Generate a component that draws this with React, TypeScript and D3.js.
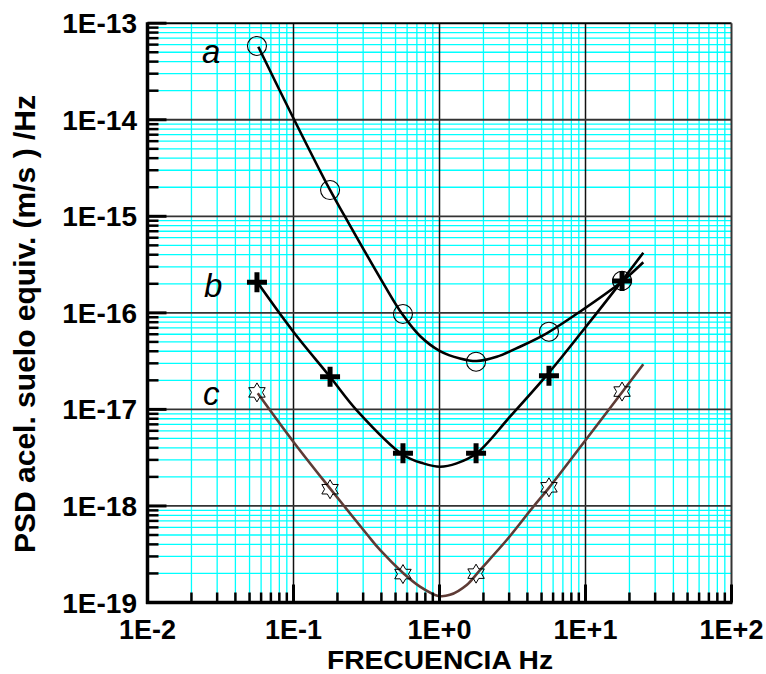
import React from 'react';
import * as d3 from 'd3';

const W = 766;
const H = 674;

const xTickValues = [0.01, 0.1, 1, 10, 100];
const xTickLabels = ['1E-2', '1E-1', '1E+0', '1E+1', '1E+2'];
const yTickValues = [1e-19, 1e-18, 1e-17, 1e-16, 1e-15, 1e-14, 1e-13];
const yTickLabels = ['1E-19', '1E-18', '1E-17', '1E-16', '1E-15', '1E-14', '1E-13'];

const markerFreq = [0.0562, 0.178, 0.562, 1.78, 5.62, 17.8];
const markerA = [5.81e-14, 1.87e-15, 9.73e-17, 3.12e-17, 6.38e-17, 2.15e-16];
const markerB = [2.07e-16, 2.18e-17, 3.51e-18, 3.51e-18, 2.23e-17, 2.14e-16];
const markerC = [1.5e-17, 1.49e-18, 1.97e-19, 1.99e-19, 1.56e-18, 1.53e-17];

const curveAFreq = [0.0574, 0.1013, 0.1778, 0.2253, 0.4122, 0.551, 0.735, 1.008, 1.382, 1.798, 2.465, 3.559, 5.423, 9.17, 17.7, 24.88];
const curveAVal = [5.71e-14, 9.94e-15, 1.873e-15, 9.91e-16, 2.02e-16, 9.89e-17, 5.76e-17, 4.02e-17, 3.37e-17, 3.17e-17, 3.51e-17, 4.46e-17, 6.14e-17, 1.03e-16, 2.1e-16, 3.34e-16];

const curveBFreq = [0.0567, 0.0997, 0.1778, 0.2722, 0.565, 0.774, 1.008, 1.311, 1.798, 3.04, 5.562, 9.66, 17.23, 24.88];
const curveBVal = [2.06e-16, 6.38e-17, 2.18e-17, 9.74e-18, 3.37e-18, 2.76e-18, 2.55e-18, 2.76e-18, 3.51e-18, 8.4e-18, 2.36e-17, 6.64e-17, 2.02e-16, 4.2e-16];

const curveCFreq = [0.0569, 0.0997, 0.1778, 0.3173, 0.3914, 0.565, 0.735, 0.981, 1.18, 1.536, 1.894, 2.886, 4.39, 5.58, 11.31, 24.88];
const curveCVal = [1.47e-17, 4.63e-18, 1.52e-18, 5.12e-19, 3.5e-19, 2.01e-19, 1.46e-19, 1.17e-19, 1.2e-19, 1.52e-19, 2.17e-19, 4.44e-19, 9.82e-19, 1.52e-18, 6.12e-18, 2.93e-17];

const seriesLabels = ['a', 'b', 'c'];
const xTitle = 'FRECUENCIA Hz';
const yTitle = 'PSD acel. suelo equiv. (m/s ) /Hz';

const FONT = "'Liberation Sans', Arial, Helvetica, sans-serif";

const x = d3.scaleLog().domain([0.01, 100]).range([147.5, 731.5]);
const y = d3.scaleLog().domain([1e-19, 1e-13]).range([602.5, 23.2]);

const minorX: number[] = [];
for (let d = -2; d <= 1; d++) for (let k = 2; k <= 9; k++) minorX.push(k * Math.pow(10, d));
const minorY: number[] = [];
for (let d = -19; d <= -14; d++) for (let k = 2; k <= 9; k++) minorY.push(k * Math.pow(10, d));

const line = d3
  .line<[number, number]>()
  .x((d) => x(d[0]))
  .y((d) => y(d[1]))
  .curve(d3.curveCatmullRom.alpha(0.5));

const zip = (a: number[], b: number[]) => a.map((v, i) => [v, b[i]] as [number, number]);

const starPath = (() => {
  const R = 9.5, r = 5.5;
  const pts: [number, number][] = [];
  for (let i = 0; i < 12; i++) {
    const ang = -Math.PI / 2 + (i * Math.PI) / 6;
    const rad = i % 2 === 0 ? R : r;
    pts.push([rad * Math.cos(ang), rad * Math.sin(ang)]);
  }
  return 'M' + pts.map((p) => p[0].toFixed(2) + ',' + p[1].toFixed(2)).join('L') + 'Z';
})();

export default function App() {
  const x0 = x.range()[0], x1 = x.range()[1];
  const y0 = y.range()[0], y1 = y.range()[1];
  return (
    <svg width={W} height={H} style={{ position: 'absolute', left: 0, top: 0, background: '#fff' }}>
      <rect x={0} y={0} width={W} height={H} fill="#fff" />
      {/* minor grid */}
      {minorX.map((v, i) => (
        <line key={'gx' + i} x1={x(v)} x2={x(v)} y1={y1} y2={y0} stroke="#00ffff" strokeWidth={1.3} />
      ))}
      {minorY.map((v, i) => (
        <line key={'gy' + i} x1={x0} x2={x1} y1={y(v)} y2={y(v)} stroke="#00ffff" strokeWidth={1.3} />
      ))}
      {/* major grid */}
      {xTickValues.slice(1, -1).map((v, i) => (
        <line key={'Gx' + i} x1={x(v)} x2={x(v)} y1={y1} y2={y0} stroke="#111" strokeWidth={1.5} />
      ))}
      {yTickValues.slice(1, -1).map((v, i) => (
        <line key={'Gy' + i} x1={x0} x2={x1} y1={y(v)} y2={y(v)} stroke="#333" strokeWidth={1.8} />
      ))}
      {/* frame */}
      <line x1={x0} x2={x1} y1={y1} y2={y1} stroke="#000" strokeWidth={2} />
      <line x1={x1} x2={x1} y1={y1} y2={y0} stroke="#333" strokeWidth={2} />
      {/* curves */}
      <path d={line(zip(curveAFreq, curveAVal)) || ''} fill="none" stroke="#000" strokeWidth={2.6} />
      <path d={line(zip(curveBFreq, curveBVal)) || ''} fill="none" stroke="#000" strokeWidth={2.6} />
      <path d={line(zip(curveCFreq, curveCVal)) || ''} fill="none" stroke="#5e3b35" strokeWidth={2.6} />
      {/* markers */}
      {markerFreq.map((f, i) => (
        <circle key={'ma' + i} cx={x(f)} cy={y(markerA[i])} r={9.5} fill="none" stroke="#000" strokeWidth={1.1} />
      ))}
      {markerFreq.map((f, i) => (
        <path
          key={'mb' + i}
          transform={`translate(${x(f)},${y(markerB[i])})`}
          d="M-10,0H10M0,-10V10"
          stroke="#000"
          strokeWidth={5}
          fill="none"
        />
      ))}
      {markerFreq.map((f, i) => (
        <path
          key={'mc' + i}
          transform={`translate(${x(f)},${y(markerC[i])})`}
          d={starPath}
          stroke="#000"
          strokeWidth={1}
          fill="none"
        />
      ))}
      {/* axes */}
      <line x1={x0} x2={x0} y1={y1 - 1} y2={y0 + 1.5} stroke="#000" strokeWidth={3.5} />
      <line x1={x0 - 1.5} x2={x1 + 1} y1={y0} y2={y0} stroke="#000" strokeWidth={3.5} />
      {yTickValues.map((v, i) => (
        <line key={'ty' + i} x1={x0} x2={x0 + 19} y1={y(v)} y2={y(v)} stroke="#000" strokeWidth={3} />
      ))}
      {minorY.map((v, i) => (
        <line key={'tmy' + i} x1={x0} x2={x0 + 11} y1={y(v)} y2={y(v)} stroke="#000" strokeWidth={2.5} />
      ))}
      {xTickValues.map((v, i) => (
        <line key={'tx' + i} x1={x(v)} x2={x(v)} y1={y0} y2={y0 - 18} stroke="#000" strokeWidth={3} />
      ))}
      {minorX.map((v, i) => (
        <line key={'tmx' + i} x1={x(v)} x2={x(v)} y1={y0} y2={y0 - 10} stroke="#000" strokeWidth={2.5} />
      ))}
      {/* tick labels */}
      {yTickValues.map((v, i) => (
        <text
          key={'ly' + i}
          x={137}
          y={y(v) + 10}
          textAnchor="end"
          fontFamily={FONT}
          fontWeight="bold"
          fontSize={28}
          fill="#000"
        >
          {yTickLabels[i]}
        </text>
      ))}
      {xTickValues.map((v, i) => (
        <text
          key={'lx' + i}
          x={x(v)}
          y={639}
          textAnchor="middle"
          fontFamily={FONT}
          fontWeight="bold"
          fontSize={27}
          fill="#000"
        >
          {xTickLabels[i]}
        </text>
      ))}
      {/* series letters */}
      <text x={202} y={63} fontFamily={FONT} fontStyle="italic" fontSize={33} fill="#000">
        {seriesLabels[0]}
      </text>
      <text x={204} y={297} fontFamily={FONT} fontStyle="italic" fontSize={33} fill="#000">
        {seriesLabels[1]}
      </text>
      <text x={203} y={405} fontFamily={FONT} fontStyle="italic" fontSize={33} fill="#000">
        {seriesLabels[2]}
      </text>
      {/* titles */}
      <text
        x={440}
        y={668.5}
        textAnchor="middle"
        fontFamily={FONT}
        fontWeight="bold"
        fontSize={26}
        textLength={226}
        lengthAdjust="spacingAndGlyphs"
        fill="#000"
      >
        {xTitle}
      </text>
      <text
        transform="translate(35,324) rotate(-90)"
        textAnchor="middle"
        fontFamily={FONT}
        fontWeight="bold"
        fontSize={30}
        fill="#000"
      >
        {yTitle}
      </text>
    </svg>
  );
}
